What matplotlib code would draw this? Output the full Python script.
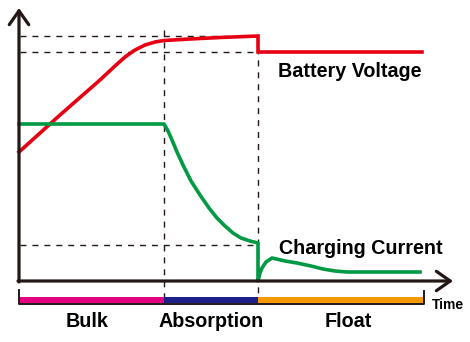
import matplotlib
matplotlib.use("Agg")
import matplotlib.pyplot as plt
from matplotlib.patches import Rectangle

# time and level values (arbitrary units, axis origin = 0)
volt_t = [0, 41, 81, 96, 106, 116, 126, 136, 145, 171, 201, 239, 239, 403]
volt_v = [129, 166, 201, 215, 224, 231, 236, 239, 240.5, 242, 243.5, 245, 229, 229]

curr_t = [0, 145, 149, 153, 158, 164, 172, 181, 190, 198, 206, 214, 222, 231, 239,
          239, 241, 243, 247, 253, 266, 278, 292, 304, 316, 328, 360, 401]
curr_i = [157, 157, 150, 141, 129, 116, 100, 86, 73, 63, 55, 48, 43, 40, 38,
          0, 8, 13, 19, 23, 20, 18, 15, 12, 10, 9, 9, 9]

phases = ["Bulk", "Absorption", "Float"]
phase_edges = [0, 145, 239, 405]
phase_colors = ["#e4007f", "#1d2088", "#f39800"]
phase_label_x = [68, 192, 329]

v_abs = 245     # absorption voltage
v_float = 229   # float voltage
i_tail = 36     # tail current at end of absorption

dark = "#231815"
red = "#e60012"
green = "#009944"
font = "Liberation Sans"

fig = plt.figure(figsize=(4.7, 3.42), dpi=100)
ax = fig.add_axes([0, 0, 1, 1])
ax.set_xlim(-19, 451)
ax.set_ylim(-61, 281)
ax.axis("off")

dash = dict(color=dark, lw=1.0, linestyle=(0, (4.3, 4.3)))
# guide lines
ax.plot([1, phase_edges[2]], [v_abs, v_abs], **dash)
ax.plot([1, phase_edges[2]], [v_float, v_float], **dash)
ax.plot([1, phase_edges[2]], [i_tail, i_tail], **dash)
ax.plot([phase_edges[1], phase_edges[1]], [251, -17], **dash)
ax.plot([phase_edges[2], phase_edges[2]], [v_abs, -17], **dash)

# curves
ax.plot(volt_t, volt_v, color=red, lw=2.6, solid_joinstyle="miter", zorder=3)
ax.plot(curr_t, curr_i, color=green, lw=2.6, zorder=3)

# axes with arrow heads
arrow = dict(arrowstyle="->,head_length=1.0,head_width=0.7", lw=2.3, color=dark,
             shrinkA=0, shrinkB=0)
ax.annotate("", xy=(0, 273), xytext=(0, -1), arrowprops=arrow)
ax.annotate("", xy=(434, 0), xytext=(-1, 0), arrowprops=arrow)

# phase bar
for i in range(len(phases)):
    x0, x1 = phase_edges[i], phase_edges[i + 1]
    ax.add_patch(Rectangle((x0, -22), x1 - x0, 6, color=phase_colors[i], lw=0, zorder=2))
    ax.text(phase_label_x[i], -46, phases[i], ha="center", va="baseline",
            fontsize=14.2, fontweight="bold", family=font)
ax.plot([-0.5, -0.5, phase_edges[-1], phase_edges[-1]], [-9, -23, -23, -10],
        color=dark, lw=1.4, zorder=3)

ax.text(259, 204, "Battery Voltage", ha="left", va="baseline", fontsize=14.2,
        fontweight="bold", family=font)
ax.text(260, 27, "Charging Current", ha="left", va="baseline", fontsize=14.2,
        fontweight="bold", family=font)
ax.text(413, -28, "Time", ha="left", va="baseline", fontsize=10,
        fontweight="bold", family=font)

fig.savefig("out.png", dpi=100)
